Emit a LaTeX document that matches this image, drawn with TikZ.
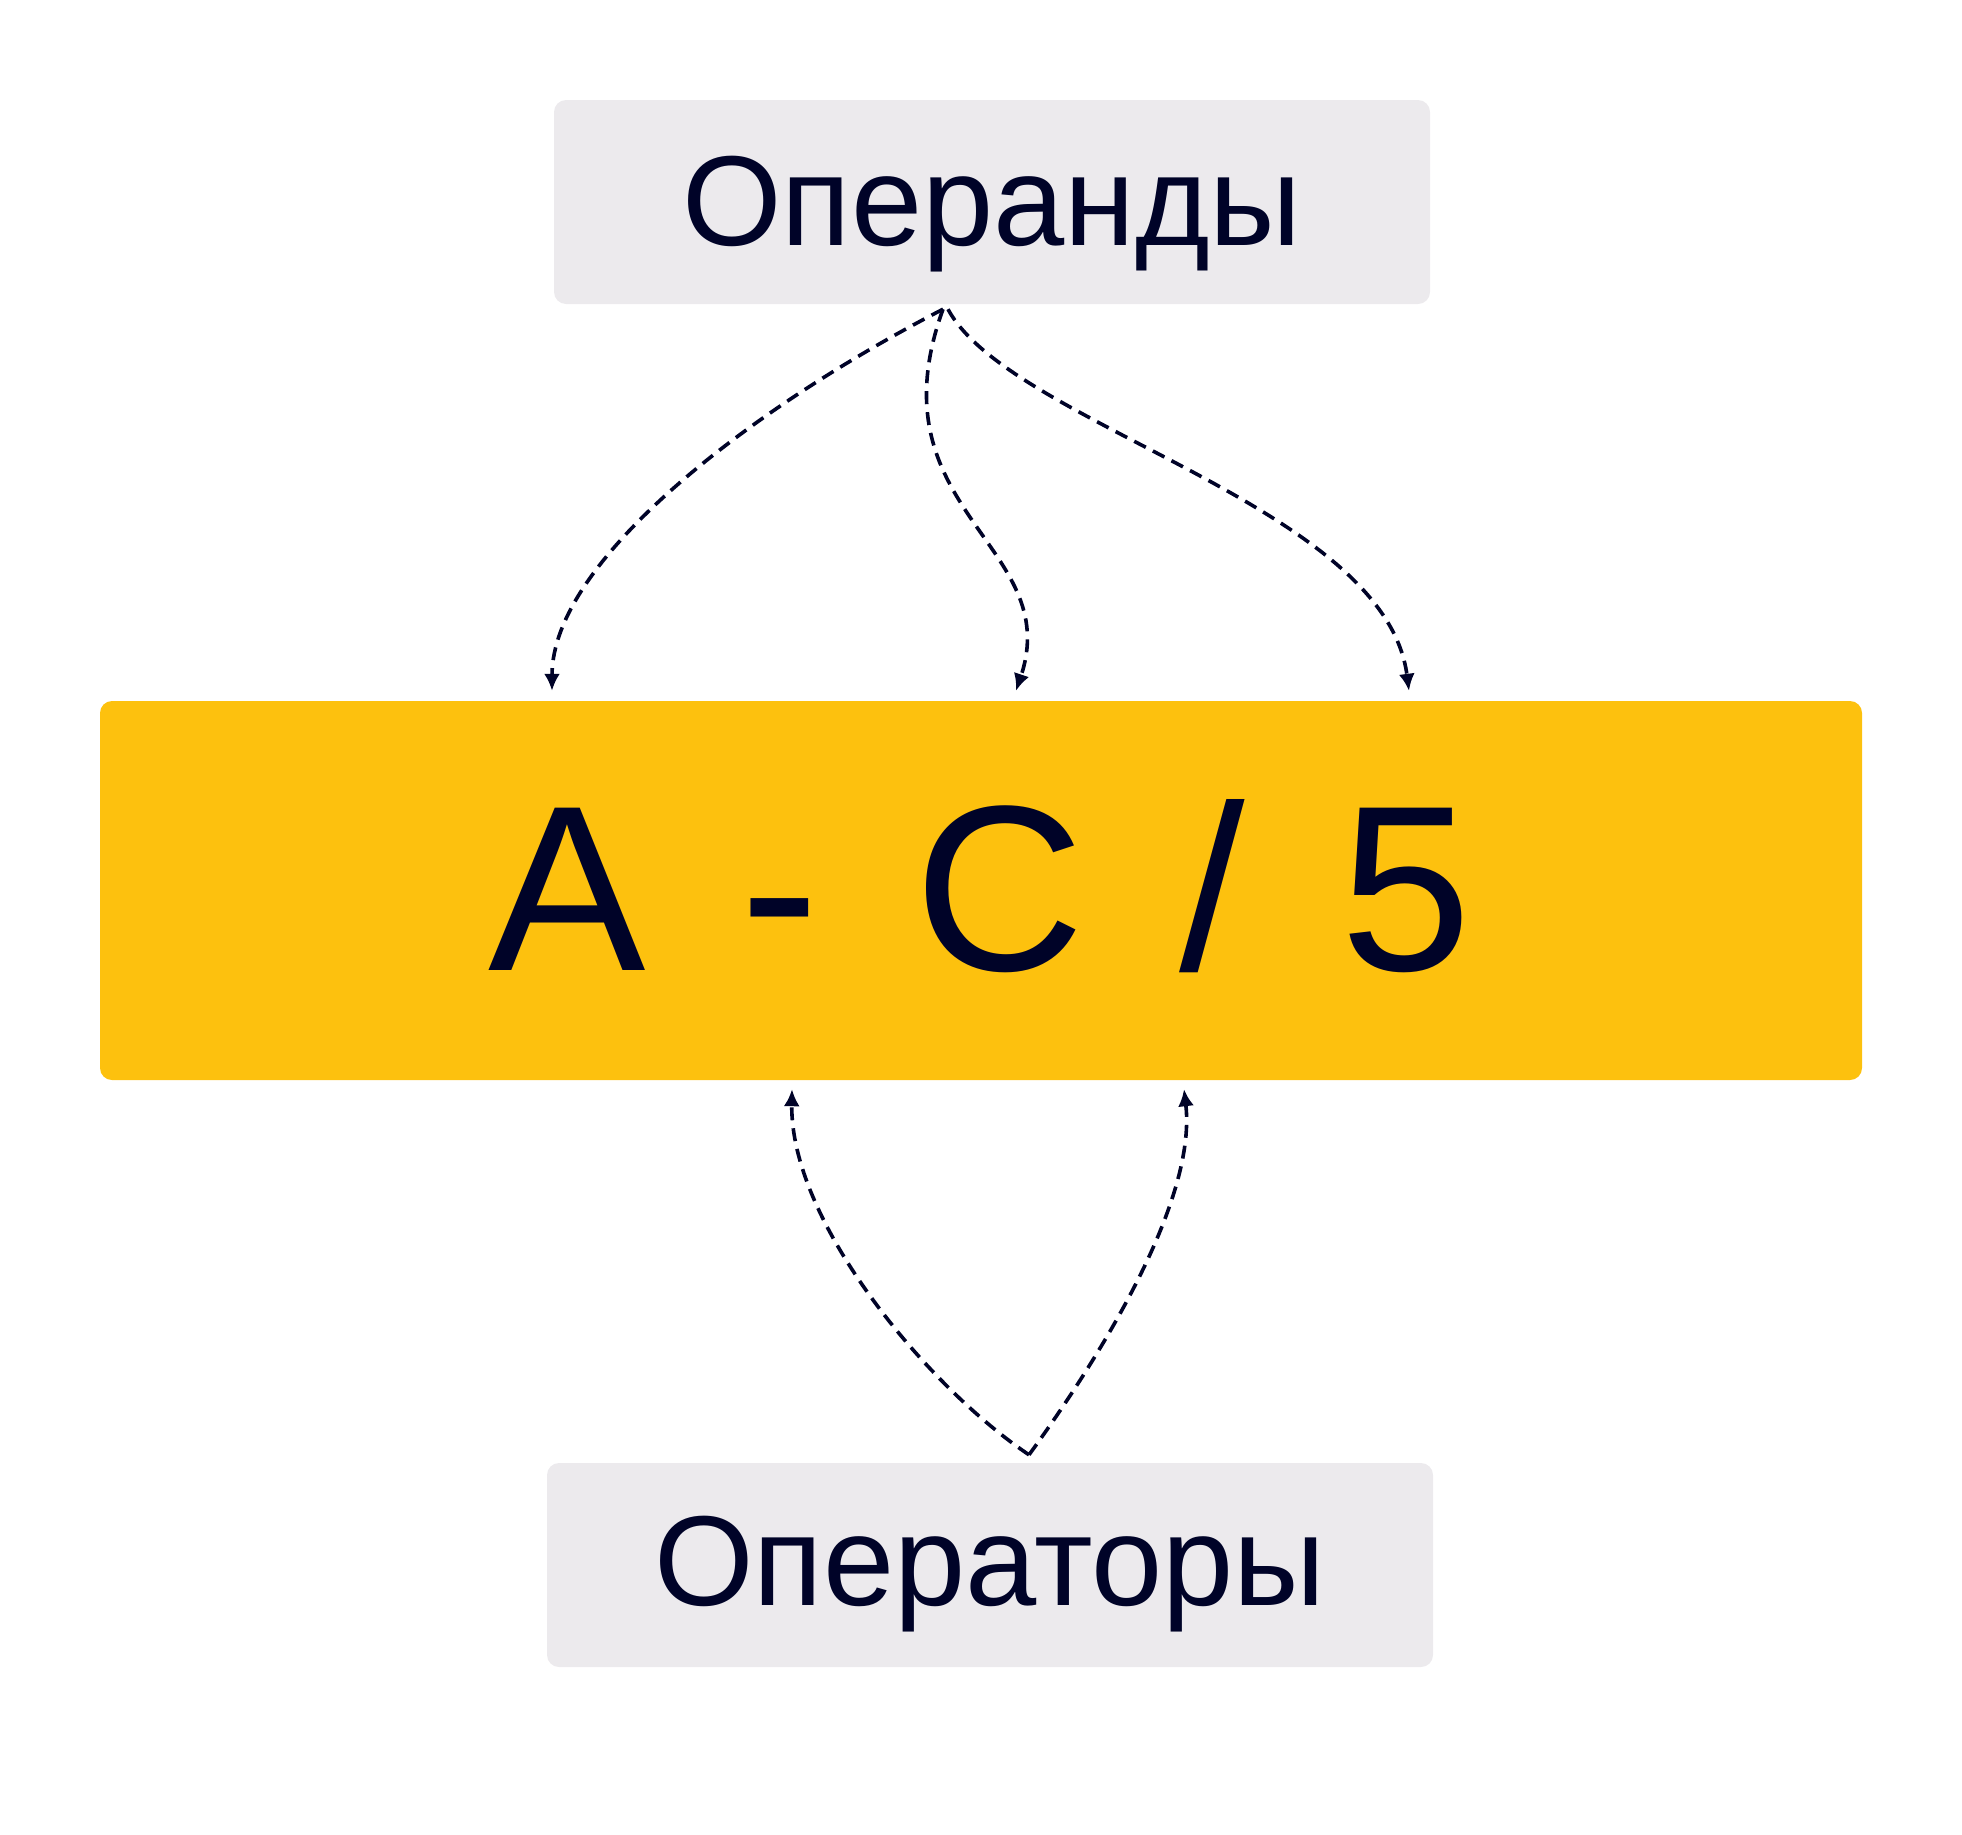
\documentclass[tikz,border=0pt]{standalone}
\usepackage{fontspec}
\setmainfont{Liberation Sans}
\newfontfamily\exprfont[WordSpace=1.45]{Liberation Sans}
\usetikzlibrary{arrows.meta,calc}
\definecolor{ink}{HTML}{000328}
\definecolor{boxgray}{HTML}{ECEAED}
\definecolor{boxyellow}{HTML}{FDC10E}
\begin{document}
\begin{tikzpicture}[x=1pt,y=-1pt,
  graybox/.style={fill=boxgray,rounded corners=12pt,inner sep=0pt,minimum height=204pt},
  yellowbox/.style={fill=boxyellow,rounded corners=12pt,inner sep=0pt,minimum width=1762pt,minimum height=379pt},
  lbl/.style={text=ink,anchor=base,inner sep=0pt,font=\fontsize{128}{150}\selectfont},
  expr/.style={text=ink,anchor=base,inner sep=0pt,font=\exprfont\fontsize{236}{280}\selectfont},
  link/.style={draw=ink,line width=3.6pt,dash pattern=on 13pt off 8pt,-{Latex[length=17pt,width=16pt]}}]
\useasboundingbox (0,0) rectangle (1962,1834);
% boxes
\node[graybox,minimum width=876pt] (opd) at (992,202) {};
\node[yellowbox] (main) at (981,890.5) {};
\node[graybox,minimum width=886pt] (opr) at (990,1565) {};
% texts
\node[lbl] (opdT) at (992,245) {Операнды};
\node[expr] (mainT) at (980,970) {A - C / 5};
\node[lbl] (oprT) at (990,1605) {Операторы};
% operand links
\draw[link] ($(opd.south)+(-49,5)$) .. controls (752,408) and (552,560) .. ($(main.north)+(-429,-10)$);
\draw[link] ($(opd.south)+(-49,5)$) .. controls (870,510) and (1065,545) .. ($(main.north)+(35,-10)$);
\draw[link] ($(opd.south)+(-44,5)$) .. controls (1010,425) and (1385,505) .. ($(main.north)+(428,-10)$);
% operator links
\draw[link] ($(opr.north)+(39,-8)$) .. controls (925,1385) and (790,1220) .. ($(main.south)+(-189,9)$);
\draw[link] ($(opr.north)+(39,-8)$) .. controls (1080,1385) and (1198,1210) .. ($(main.south)+(203,9)$);
\end{tikzpicture}
\end{document}
